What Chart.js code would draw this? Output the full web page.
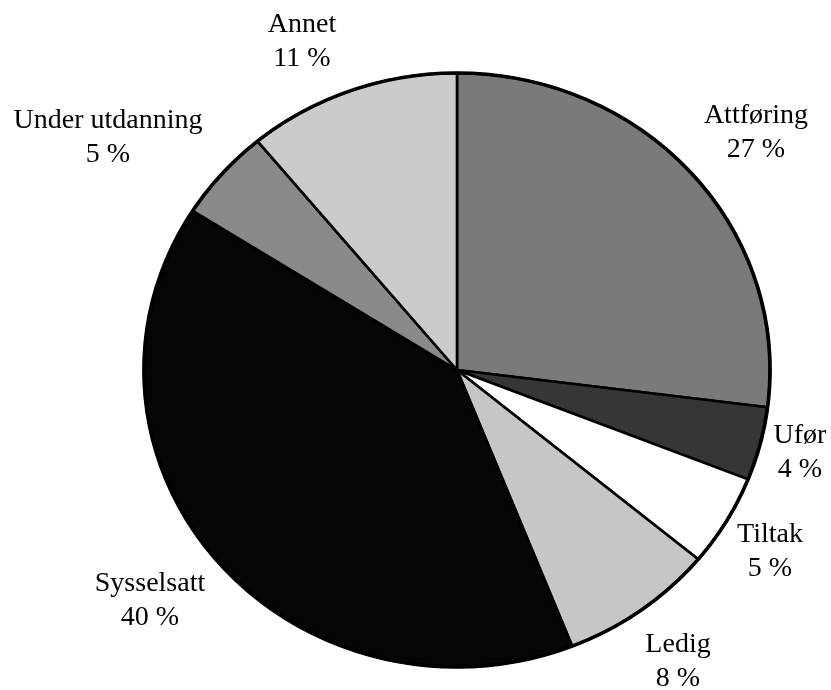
<!DOCTYPE html>
<html lang="no">
<head>
<meta charset="utf-8">
<title>Status</title>
<script src="https://cdn.jsdelivr.net/npm/chart.js@4"></script>
<style>
  html, body { margin: 0; padding: 0; background: #fff; }
  #wrap { width: 831px; height: 690px; }
</style>
</head>
<body>
<div id="wrap"><canvas id="statusChart" width="831" height="690"></canvas></div>
<script>
// Share of persons by status, clockwise from the top
const categories = ["Attføring", "Ufør", "Tiltak", "Ledig", "Sysselsatt", "Under utdanning", "Annet"];
const shares = [27, 4, 5, 8, 40, 5, 11];
const sliceColors = ["#7a7a7a", "#363636", "#ffffff", "#c6c6c6", "#050505", "#8a8a8a", "#cbcbcb"];

// where each two-line label sits, relative to the pie centre (first baseline)
const labelOffsets = [
  [299, -247], [343, 73], [313, 172], [221, 282],
  [-307, 221], [-349, -242], [-155, -338]
];

const STRETCH_X = 1.054; // the pie is drawn slightly wider than tall
const LINE_GAP = 34;

const stretchPie = {
  id: "stretchPie",
  beforeDatasetsDraw(chart) {
    const arc = chart.getDatasetMeta(0).data[0];
    const ctx = chart.ctx;
    ctx.save();
    ctx.translate(arc.x, arc.y);
    ctx.scale(STRETCH_X, 1);
    ctx.translate(-arc.x, -arc.y);
  },
  afterDatasetsDraw(chart) {
    // heavier rim round the whole pie
    const arc = chart.getDatasetMeta(0).data[0];
    const ctx = chart.ctx;
    ctx.beginPath();
    ctx.arc(arc.x, arc.y, arc.outerRadius, 0, Math.PI * 2);
    ctx.lineWidth = 3.5;
    ctx.strokeStyle = "#000";
    ctx.stroke();
    ctx.restore();
  }
};

const sliceLabels = {
  id: "sliceLabels",
  afterDraw(chart) {
    const ctx = chart.ctx;
    const arcs = chart.getDatasetMeta(0).data;
    ctx.save();
    ctx.font = '28px "Liberation Serif", "Times New Roman", serif';
    ctx.fillStyle = "#000";
    ctx.textAlign = "center";
    ctx.textBaseline = "alphabetic";
    arcs.forEach((arc, i) => {
      const x = arc.x + labelOffsets[i][0];
      const y = arc.y + labelOffsets[i][1];
      ctx.fillText(categories[i], x, y);
      ctx.fillText(shares[i] + " %", x, y + LINE_GAP);
    });
    ctx.restore();
  }
};

new Chart(document.getElementById("statusChart"), {
  type: "pie",
  data: {
    labels: categories,
    datasets: [
      {
        data: shares,
        backgroundColor: sliceColors,
        borderColor: "#000",
        borderWidth: 2.5,
      },
    ],
  },
  options: {
    responsive: false,
    animation: false,
    radius: 297,
    layout: { padding: { left: 83, top: 50, right: 0, bottom: 0 } },
    plugins: {
      legend: { display: false },
      tooltip: { enabled: false },
    },
  },
  plugins: [stretchPie, sliceLabels],
});
</script>
</body>
</html>
